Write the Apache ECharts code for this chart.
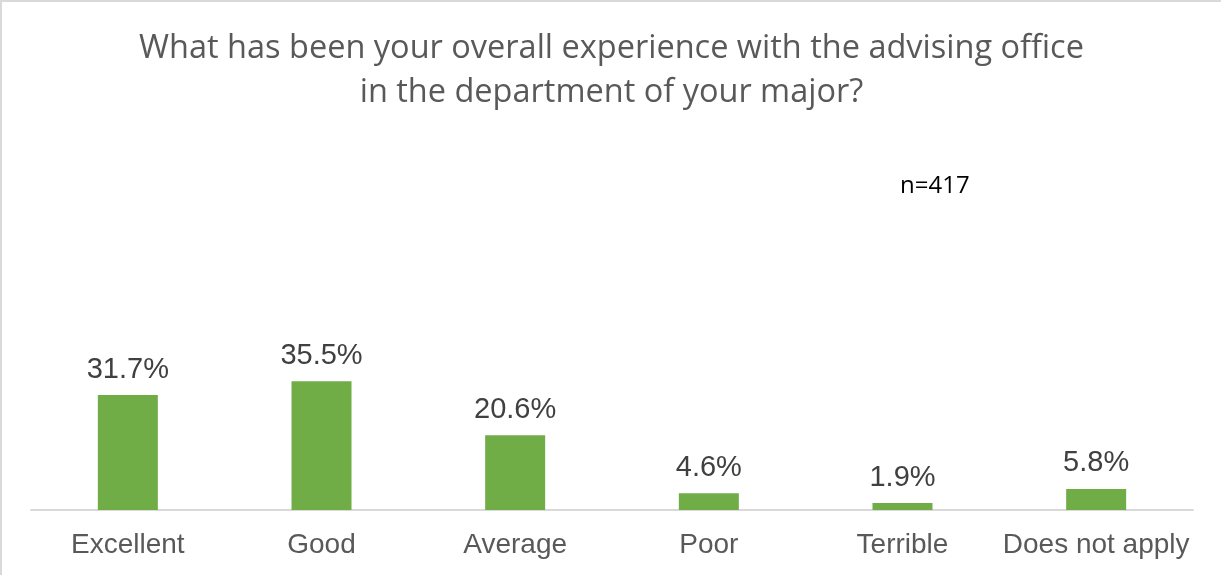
<!DOCTYPE html>
<html>
<head>
<meta charset="utf-8">
<script src="https://cdn.jsdelivr.net/npm/echarts@6/dist/echarts.min.js"></script>
<style>
  html, body { margin: 0; padding: 0; background: #fff; }
  #chart { width: 1221px; height: 575px; box-sizing: border-box; border-left: 2px solid #d9d9d9; border-top: 2px solid #d9d9d9; }
</style>
</head>
<body>
<div id="chart"></div>
<script>
const categories = ['Excellent', 'Good', 'Average', 'Poor', 'Terrible', 'Does not apply']
const percents = [31.7, 35.5, 20.6, 4.6, 1.9, 5.8]
const titleText = 'What has been your overall experience with the advising office\nin the department of your major?'
const noteText = 'n=417'

const chart = echarts.init(document.getElementById('chart'))

chart.setOption({
  backgroundColor: '#ffffff',
  animation: false,
  title: {
    text: titleText,
    left: 'center',
    top: 20,
    textStyle: {
      fontFamily: 'Open Sans',
      fontWeight: 'normal',
      fontSize: 32.5,
      color: '#595959',
      lineHeight: 44,
    },
  },
  graphic: {
    type: 'text',
    left: 898,
    top: 172,
    style: { text: noteText, fill: '#000000', fontSize: 24, fontFamily: 'Open Sans' },
  },
  grid: { left: 29, right: 28, top: 363, bottom: 65 },
  xAxis: {
    type: 'category',
    data: categories,
    axisLine: { lineStyle: { color: '#d9d9d9', width: 2 } },
    axisTick: { show: false },
    axisLabel: { color: '#595959', fontSize: 28, fontFamily: 'Liberation Sans', margin: 21, interval: 0 },
  },
  yAxis: {
    type: 'value',
    min: 0,
    max: 40,
    show: false,
    splitLine: { show: false },
  },
  series: [{
    type: 'bar',
    data: percents,
    barWidth: 60,
    itemStyle: { color: '#70ad47' },
    label: {
      show: true,
      position: 'top',
      distance: 11,
      color: '#404040',
      fontSize: 29,
      fontFamily: 'Liberation Sans',
      formatter: p => p.value.toFixed(1) + '%',
    },
  }],
})
</script>
</body>
</html>
